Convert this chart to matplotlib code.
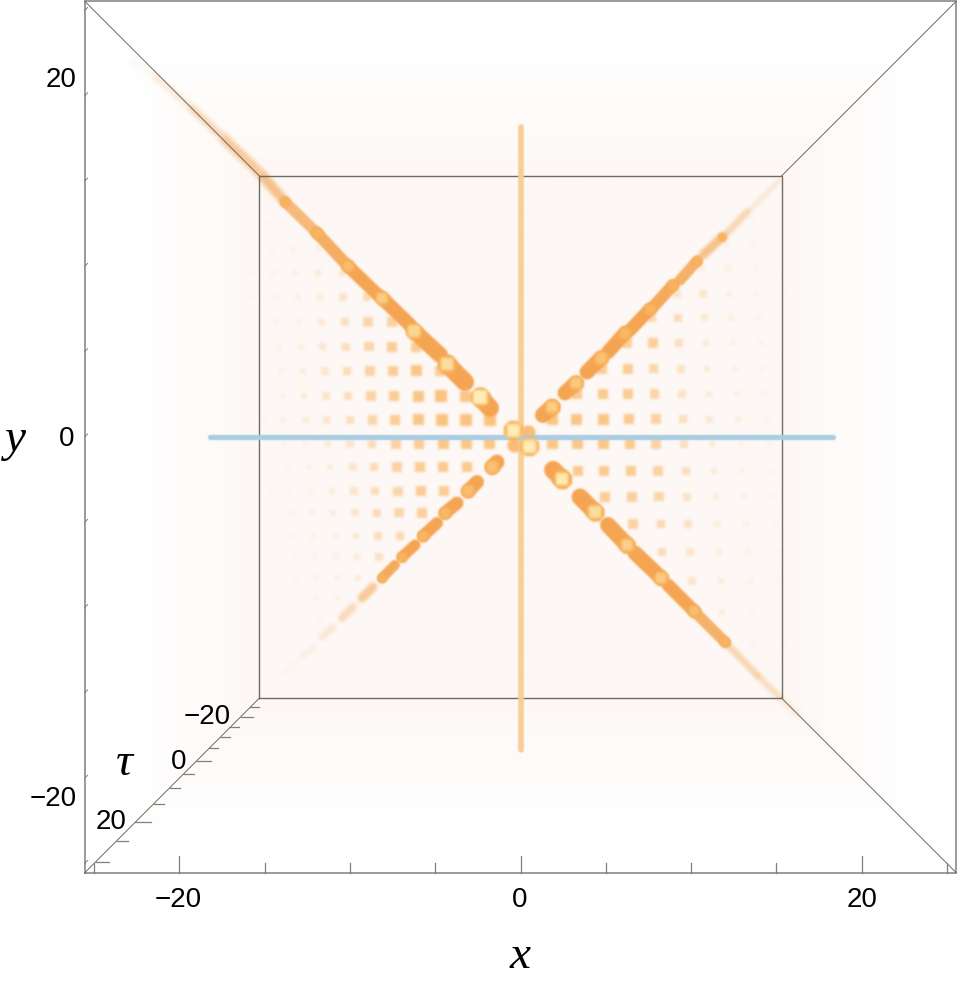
import numpy as np
import matplotlib
matplotlib.use("Agg")
import matplotlib.pyplot as plt
from matplotlib.colors import to_rgb

# ---------- axis values ----------
x_major = [-20, 0, 20]
x_minor = [-25, -15, -10, -5, 5, 10, 15, 25]
y_ticks = [25, 20, 15, 10, 5, 0, -5, -10, -15, -20, -25]
tau_labels = [-20, 0, 20]
tau_tick_pos = [-15.83, -16.41, -17.0, -17.58, -18.23, -18.99, -19.75, -20.57, -21.51, -22.57, -23.68, -24.91]
tau_tick_len = [9, 12, 9, 9, 9, 14, 10, 10, 10, 16, 11, 13]
front_box = 25.55
back_box = 15.3

# ---------- lattice points, one list per row ----------
ul_y = [1.0, 2.4, 3.87, 5.28, 6.74, 8.2, 9.6, 11.0, 12.5]
ul_x = [[-1.79, -3.19, -4.6, -6.0, -7.35, -8.7, -10.0, -11.35, -12.6, -13.9, -15.1],
        [-3.2, -4.66, -6.0, -7.4, -8.76, -10.1, -11.4, -12.7, -13.9],
        [-4.72, -6.07, -7.47, -8.82, -10.17, -11.46, -12.75, -13.98],
        [-6.13, -7.53, -8.88, -10.2, -11.58, -12.87, -14.15],
        [-7.53, -8.94, -10.29, -11.64, -12.98, -14.27],
        [-9.0, -10.4, -11.75, -13.04, -14.39, -15.68],
        [-10.46, -11.87, -13.22, -14.5, -15.68],
        [-11.87, -13.33, -14.57, -15.86],
        [-14.68, -16.0]]
ul_i = [[.85, .85, .85, .8, .7, .55, .4, .3, .2, .12, .05],
        [.8, .85, .8, .7, .6, .42, .3, .2, .1],
        [.7, .8, .7, .6, .45, .28, .18, .1],
        [.7, .7, .55, .4, .28, .15, .1],
        [.6, .55, .38, .25, .13, .08],
        [.45, .33, .2, .13, .08, .04],
        [.25, .2, .1, .07, .04],
        [.12, .1, .06, .03],
        [.05, .03]]

ur_y = [1.05, 2.52, 3.99, 5.51, 6.98, 8.38, 9.85, 11.3, 12.8]
ur_x = [[1.85, 3.31, 4.84, 6.36, 7.94, 9.53, 11.1, 12.75, 14.45],
        [3.31, 4.84, 6.3, 7.88, 9.47, 11.05, 12.69, 14.33],
        [4.78, 6.3, 7.82, 9.41, 10.93, 12.57, 14.15, 15.7],
        [6.24, 7.77, 9.29, 10.87, 12.46, 14.1, 15.7],
        [7.71, 9.23, 10.76, 12.34, 13.92, 15.62],
        [9.17, 10.7, 12.22, 13.86, 15.5],
        [10.64, 12.16, 13.75, 15.2],
        [12.1, 13.63, 15.1],
        [13.57, 15.1]]
ur_i = [[.8, .8, .8, .75, .6, .4, .25, .15, .08],
        [.75, .75, .7, .55, .35, .22, .12, .06],
        [.7, .7, .55, .35, .22, .12, .07, .03],
        [.65, .65, .4, .22, .12, .07, .03],
        [.5, .45, .25, .14, .07, .04],
        [.3, .3, .15, .07, .04],
        [.15, .15, .07, .03],
        [.1, .06, .03],
        [.04, .02]]

lr_y = [-0.41, -1.99, -3.5, -5.1, -6.74, -8.44, -10.26, -12.07, -13.95]
lr_x = [[1.85, 3.37, 4.84, 6.42, 7.94, 9.58, 11.22, 12.92, 14.62],
        [3.37, 4.89, 6.48, 8.06, 9.7, 11.34, 12.98, 14.68],
        [4.95, 6.54, 8.12, 9.76, 11.46, 13.1, 14.8],
        [6.6, 8.24, 9.82, 11.52, 13.22, 14.98],
        [8.3, 9.94, 11.63, 13.33, 15.03],
        [10.05, 11.75, 13.45, 15.15],
        [11.81, 13.57, 15.33],
        [13.69, 15.5],
        [15.7]]
lr_i = [[.8, .8, .8, .75, .6, .4, .2, .1, .05],
        [.75, .75, .7, .6, .4, .2, .1, .05],
        [.7, .65, .55, .35, .2, .1, .05],
        [.6, .5, .35, .2, .1, .05],
        [.45, .3, .18, .1, .05],
        [.3, .17, .09, .05],
        [.15, .08, .04],
        [.07, .03],
        [.03]]

ll_y = [-0.41, -1.76, -3.17, -4.45, -5.8, -7.03, -8.26, -9.44, -10.6, -11.72]
ll_x = [[-1.79, -3.14, -4.54, -5.95, -7.3, -8.7, -10.0, -11.3, -12.6, -13.9],
        [-3.14, -4.54, -5.89, -7.24, -8.59, -9.82, -11.17, -12.4, -13.63, -14.8],
        [-4.48, -5.83, -7.18, -8.53, -9.76, -11.05, -12.28, -13.51, -14.68],
        [-5.77, -7.12, -8.41, -9.7, -10.99, -12.22, -13.39, -14.62],
        [-7.06, -8.35, -9.64, -10.87, -12.16, -13.33, -14.57],
        [-8.3, -9.58, -10.81, -12.05, -13.28, -14.45],
        [-9.52, -10.76, -11.99, -13.16, -14.39],
        [-10.7, -11.93, -13.1, -14.27],
        [-11.81, -13.04, -14.16],
        [-12.93, -14.1]]
ll_i = [[.8, .8, .8, .7, .6, .45, .3, .2, .1, .05],
        [.75, .75, .7, .6, .45, .3, .2, .1, .06, .04],
        [.7, .7, .55, .45, .3, .2, .08, .05, .04],
        [.65, .55, .45, .28, .16, .1, .06, .04],
        [.5, .4, .25, .12, .08, .05, .03],
        [.35, .22, .12, .07, .04, .03],
        [.2, .12, .07, .04, .03],
        [.1, .06, .04, .02],
        [.05, .03, .02],
        [.03, .02]]

# ---------- streaks: head position, tail position, width, opacity, head glow ----------
ul_head_x = [-2.37, -4.31, -6.24, -8.12, -10.11, -11.93, -13.8]
ul_head_y = [2.34, 4.28, 6.21, 8.15, 10.02, 11.96, 13.78]
ul_tail_x = [-1.79, -3.25, -4.72, -6.48, -8.35, -10.17, -11.93]
ul_tail_y = [1.70, 3.22, 4.81, 6.57, 8.32, 10.08, 11.96]
ul_w = [18, 18, 16, 14, 13, 12, 11]
ul_a = [1, 1, 1, 1, 1, .9, .75]
ul_glow = [1.0, .75, .6, .42, .2, .05, 0]

ur_head_x = [1.85, 3.25, 4.72, 6.13, 7.59, 8.94, 10.35, 11.81, 13.28, 15.21]
ur_head_y = [1.76, 3.17, 4.63, 6.1, 7.5, 8.91, 10.32, 11.72, 13.19, 15.06]
ur_tail_x = [1.32, 2.61, 3.9, 5.13, 6.42, 7.77, 9.35, 10.7, 11.99, 13.45]
ur_tail_y = [1.29, 2.58, 3.81, 4.98, 6.27, 7.62, 9.2, 10.67, 11.84, 13.31]
ur_w = [16, 15, 15, 14, 13, 12, 11, 9, 7, 5]
ur_a = [1, 1, 1, 1, 1, .95, .85, .65, .4, .2]
ur_glow = [.45, .4, .25, .12, .03, 0, 0, 0, 0, 0]

lr_head_x = [2.43, 4.37, 6.24, 8.24, 10.17, 11.99, 13.86]
lr_head_y = [-2.46, -4.4, -6.33, -8.26, -10.2, -12.02, -13.95]
lr_tail_x = [1.91, 3.49, 5.13, 6.71, 8.65, 10.17, 11.99]
lr_tail_y = [-1.93, -3.52, -5.16, -6.8, -8.68, -10.2, -12.02]
lr_w = [18, 17, 16, 15, 13, 11, 7]
lr_a = [1, 1, 1, 1, 1, .85, .4]
lr_glow = [.95, .72, .55, .4, .22, .08, 0]

ll_head_x = [-1.67, -3.08, -4.43, -5.72, -6.95, -8.12, -9.29, -10.46, -11.64, -12.75, -13.8]
ll_head_y = [-1.76, -3.17, -4.45, -5.8, -7.03, -8.26, -9.44, -10.61, -11.72, -12.78, -13.83]
ll_tail_x = [-1.38, -2.55, -3.72, -4.89, -6.18, -7.36, -8.65, -9.82, -10.99, -12.16, -13.22]
ll_tail_y = [-1.47, -2.64, -3.87, -5.04, -6.33, -7.5, -8.79, -9.96, -11.14, -12.37, -13.25]
ll_w = [15, 14, 13, 12, 11, 10, 9, 8, 7, 7, 6]
ll_a = [1, 1, 1, 1, 1, .95, .55, .35, .2, .1, .05]
ll_glow = [.25, .18, .12, .08, .02, 0, 0, 0, 0, 0, 0]

# fading ends of the brightest diagonals, outside the inner box
fade_ul_x = [-13.8, -15.3, -17.5, -19.4, -21.5, -22.8]
fade_ul_y = [13.78, 15.5, 17.6, 19.4, 21.2, 22.1]
fade_ul_a = [.75, .6, .5, .3, .12, .03]
fade_ul_w = [10, 10, 8, 7, 5, 3]
fade_lr_x = [13.86, 15.3, 16.4, 17.8]
fade_lr_y = [-13.95, -15.36, -16.4, -17.6]
fade_lr_a = [.4, .3, .12, .03]
fade_lr_w = [6, 5, 3, 2]

# centre of the plot
centre_small_x = [0.44, -0.38]
centre_small_y = [0.29, -0.47]
centre_bright_x = [-0.44, 0.5]
centre_bright_y = [0.41, -0.53]

# the two straight tubes
blue_x = [-18.2, 18.32]
orange_y = [-18.35, 18.17]

# ---------- scale ----------
PX = 17.06
CX, CY = 520.5, 437.0
W, H = 960, 993
pt = 0.72


def gx(p):
    return (p - CX) / PX


def gy(p):
    return (CY - p) / PX


def blur(sigma):
    r = int(np.ceil(3 * sigma))
    k = np.exp(-0.5 * (np.arange(-r, r + 1) / sigma) ** 2)
    k /= k.sum()

    def f(im, dpi):
        a = np.pad(im, ((r, r), (r, r), (0, 0)))
        a = a.astype(float)
        a[..., :3] *= a[..., 3:4]
        out = np.zeros_like(a)
        for i, w in zip(range(-r, r + 1), k):
            out += w * np.roll(a, i, axis=0)
        a = out
        out = np.zeros_like(a)
        for i, w in zip(range(-r, r + 1), k):
            out += w * np.roll(a, i, axis=1)
        al = np.maximum(out[..., 3:4], 1e-4)
        out[..., :3] = np.clip(out[..., :3] / al, 0, 1)
        return np.clip(out, 0, 1), -r, -r
    return f


fig = plt.figure(figsize=(W / 100, H / 100), dpi=100)
ax = fig.add_axes([0, 0, 1, 1])
ax.set_xlim(gx(0), gx(W))
ax.set_ylim(gy(H), gy(0))
ax.axis("off")

# ---------- pale haze ----------
g = np.linspace(-front_box, front_box, 300)
GX, GY = np.meshgrid(g, g)
ring = np.maximum(np.abs(GX), np.abs(GY))
tint = np.interp(ring, [0, 15.3, 17, 19, 21, 23.5], [1, 1, .8, .5, .2, 0])
rgb = np.ones(GX.shape + (3,))
pale = np.array(to_rgb("#FDF8F5"))
for c in range(3):
    rgb[..., c] = 1 + (pale[c] - 1) * tint
ax.imshow(rgb, extent=(-front_box, front_box, -front_box, front_box),
          origin="lower", zorder=0, aspect="auto", interpolation="bilinear")
ax.set_xlim(gx(0), gx(W))
ax.set_ylim(gy(H), gy(0))

# ---------- fading diagonals ----------
streak_c = to_rgb("#F5A552")
for xs, ys, al, wd in [(fade_ul_x, fade_ul_y, fade_ul_a, fade_ul_w),
                       (fade_lr_x, fade_lr_y, fade_lr_a, fade_lr_w)]:
    for i in range(len(xs) - 1):
        ln, = ax.plot(xs[i:i + 2], ys[i:i + 2], color=streak_c, alpha=(al[i] + al[i + 1]) / 2,
                      lw=wd[i] * pt, solid_capstyle="butt", zorder=1)
        ln.set_agg_filter(blur(2.0))

# ---------- frames ----------
frame_c = "#7F7F7F"
ax.plot([-front_box, -front_box, front_box, front_box, -front_box],
        [-front_box, front_box, front_box, -front_box, -front_box],
        color=frame_c, lw=1.1, zorder=2, solid_joinstyle="miter")
for sx, sy in [(-1, 1), (1, 1), (1, -1), (-1, -1)]:
    ax.plot([sx * back_box, sx * front_box], [sy * back_box, sy * front_box],
            color="#6E6A68", lw=0.7, zorder=2)
ax.plot([-back_box, -back_box, back_box, back_box, -back_box],
        [-back_box, back_box, back_box, -back_box, -back_box],
        color="#6E6A68", lw=1.0, zorder=2, solid_joinstyle="miter")

# ticks on the x edge
for v in x_major:
    ax.plot([v, v], [-front_box, -front_box + 17 / PX], color=frame_c, lw=0.9, zorder=2)
for v in x_minor:
    ax.plot([v, v], [-front_box, -front_box + 10 / PX], color=frame_c, lw=0.9, zorder=2)
# ticks on the y edge
for v in y_ticks:
    ax.plot([-front_box, -front_box + 3 / PX], [v, v + 3 / PX], color=frame_c, lw=0.7, zorder=2)
# ticks on the tau edge
for v, ln_px in zip(tau_tick_pos, tau_tick_len):
    ax.plot([v, v + ln_px / PX], [v, v], color=frame_c, lw=0.9, zorder=2)

# ---------- lattice ----------
dot_c = to_rgb("#FBB765")
px_, py_, rgba, ss = [], [], [], []
for ys, xs, ints in [(ul_y, ul_x, ul_i), (ur_y, ur_x, ur_i), (lr_y, lr_x, lr_i), (ll_y, ll_x, ll_i)]:
    for yy, xr, ir in zip(ys, xs, ints):
        for xx, ii in zip(xr, ir):
            px_.append(xx)
            py_.append(yy)
            rgba.append((*dot_c, min(1.0, ii * 0.95)))
            ss.append(((5 + 7.5 * ii) * pt) ** 2)
sc = ax.scatter(px_, py_, s=ss, c=rgba, marker="s", linewidths=0, zorder=3)
sc.set_agg_filter(blur(0.9))
sc2 = ax.scatter(centre_small_x, centre_small_y, s=(15 * pt) ** 2, c=[(*dot_c, .9)], marker="8",
                 linewidths=0, zorder=3)
sc2.set_agg_filter(blur(0.8))

# ---------- tubes ----------
t1, = ax.plot([0, 0], orange_y, color="#F8CE96", lw=5.6 * pt, solid_capstyle="round", zorder=4)
t2, = ax.plot(blue_x, [0, 0], color="#A9CDE3", lw=5.2 * pt, solid_capstyle="round", zorder=5)
t1.set_agg_filter(blur(0.6))
t2.set_agg_filter(blur(0.6))

# ---------- streaks and their heads ----------
glow_c = np.array(to_rgb("#FFEFB8"))
base_c = np.array(to_rgb("#F9B45F"))
edge_c = np.array(to_rgb("#FAB15C"))
for hx, hy, tx, ty, wd, al, gl in [
        (ul_head_x, ul_head_y, ul_tail_x, ul_tail_y, ul_w, ul_a, ul_glow),
        (ur_head_x, ur_head_y, ur_tail_x, ur_tail_y, ur_w, ur_a, ur_glow),
        (lr_head_x, lr_head_y, lr_tail_x, lr_tail_y, lr_w, lr_a, lr_glow),
        (ll_head_x, ll_head_y, ll_tail_x, ll_tail_y, ll_w, ll_a, ll_glow)]:
    for a, b, c, d, w_, al_, g_ in zip(hx, hy, tx, ty, wd, al, gl):
        ln, = ax.plot([a, c], [b, d], color=streak_c, alpha=al_, lw=w_ * pt,
                      solid_capstyle="round", zorder=6)
        ln.set_agg_filter(blur(0.9 if al_ > .7 else 1.6))
        if al_ < .6:
            continue
        d_out = (w_ + 3 * g_) * pt
        s1 = ax.scatter([a], [b], s=d_out ** 2, c=[edge_c], marker="8", linewidths=0, zorder=7)
        s1.set_agg_filter(blur(0.7))
        mix = base_c + (glow_c - base_c) * g_
        s2 = ax.scatter([a], [b], s=(d_out * .62) ** 2, c=[mix], marker="s", linewidths=0, zorder=8)
        s2.set_agg_filter(blur(1.0))

# bright centre
for a, b in zip(centre_bright_x, centre_bright_y):
    s1 = ax.scatter([a], [b], s=(21 * pt) ** 2, c=[edge_c], marker="8", linewidths=0, zorder=9)
    s1.set_agg_filter(blur(0.7))
    s2 = ax.scatter([a], [b], s=(13 * pt) ** 2, c=[glow_c], marker="s", linewidths=0, zorder=10)
    s2.set_agg_filter(blur(1.2))

# ---------- text ----------
sans = ["Liberation Sans", "DejaVu Sans"]
serif = ["Liberation Serif", "DejaVu Serif"]
fs = 20


def lab(px, py, s, **kw):
    ax.text(gx(px), gy(py), s, ha="center", va="center", zorder=12, **kw)


def num(v):
    return str(v).replace("-", "\u2212")


for v, p in zip(x_major, [178, 520, 862]):
    lab(p, 900, num(v), family=sans, fontsize=fs, color="black")
for v, p in zip([20, 0, -20], [(61, 80), (67, 439), (53, 799)]):
    lab(p[0], p[1], num(v), family=sans, fontsize=fs, color="black")
for v, p in zip(tau_labels, [(207, 717), (179, 762), (111, 822)]):
    lab(p[0], p[1], num(v), family=sans, fontsize=fs, color="black")
lab(520, 957, "x", family=serif, style="italic", fontsize=34, color="black")
lab(15, 440, "y", family=serif, style="italic", fontsize=34, color="black")
lab(124, 764, "\u03c4", family=serif, style="italic", fontsize=34, color="black")

fig.savefig("out.png", dpi=100)
